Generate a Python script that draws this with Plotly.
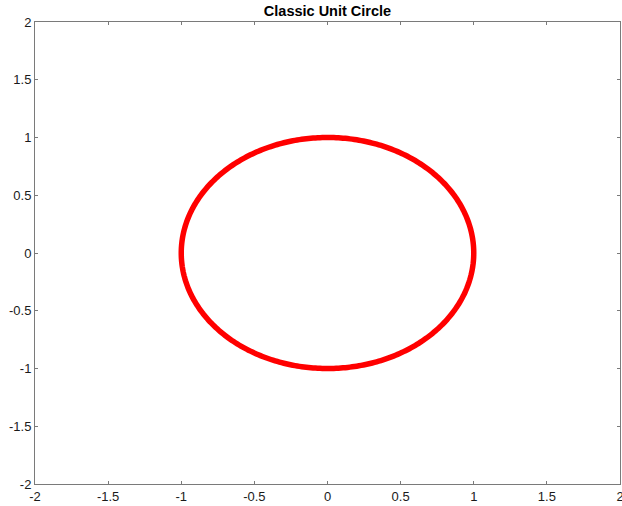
import numpy as np
import plotly.graph_objects as go

title = "Classic Unit Circle"
radius = 1.0
n_points = 400
tick_vals = [-2, -1.5, -1, -0.5, 0, 0.5, 1, 1.5, 2]
tick_text = ["-2", "-1.5", "-1", "-0.5", "0", "0.5", "1", "1.5", "2"]

theta = np.linspace(0, 2 * np.pi, n_points)
x = radius * np.cos(theta)
y = radius * np.sin(theta)

fig = go.Figure()
fig.add_trace(go.Scatter(x=x, y=y, mode="lines",
                         line=dict(color="#ff0000", width=5.5, simplify=False),
                         hoverinfo="skip"))

axis_common = dict(
    range=[-2, 2], tickvals=tick_vals, ticktext=tick_text,
    showgrid=False, zeroline=False, showline=True, linecolor="#7a7a7a",
    linewidth=1, mirror="allticks", ticks="inside", ticklen=3,
    tickcolor="#7a7a7a", ticklabeloverflow="allow", automargin=False,
    tickfont=dict(family="Liberation Sans, Arial", size=13, color="#1a1a1a"),
)
fig.update_xaxes(**axis_common)
fig.update_yaxes(**axis_common)

fig.update_layout(
    width=622, height=506,
    margin=dict(l=35, r=2, t=22, b=22),
    paper_bgcolor="white", plot_bgcolor="white",
    showlegend=False,
    title=dict(text="<b>" + title + "</b>", x=0.5 * (35 + 620) / 622,
               xanchor="center", y=1 - 11 / 506, yanchor="middle",
               font=dict(family="Liberation Sans, Arial", size=14.5, color="black")),
)

fig.write_html("out.html", config={"displayModeBar": False},
               post_script="document.body.style.margin='0';document.body.style.padding='0';")
